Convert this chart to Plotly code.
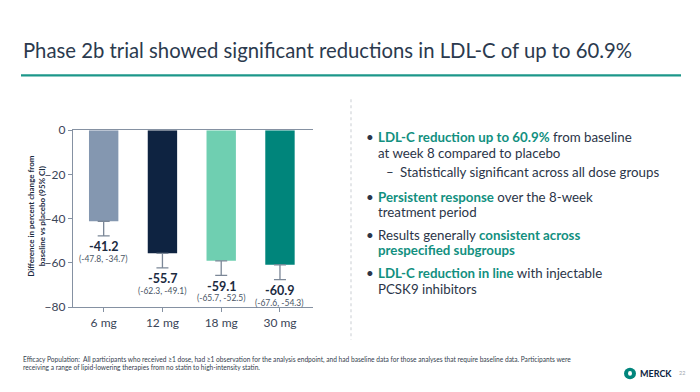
import plotly.graph_objects as go

# ---------------- data ----------------
categories = ["6 mg", "12 mg", "18 mg", "30 mg"]
ldl_diff = [-41.2, -55.7, -59.1, -60.9]
ci_lower = [-47.8, -62.3, -65.7, -67.6]
ci_upper = [-34.7, -49.1, -52.5, -54.3]
bar_colors = ["#8497b0", "#0e2341", "#6fcfb1", "#00857b"]
y_ticks = [0, -20, -40, -60, -80]

title_text = "Phase 2b trial showed significant reductions in LDL-C of up to 60.9%"
y_title = "Difference in percent change from<br>baseline vs placebo (95% CI)"
footnote_lines = [
    "Efficacy Population:  All participants who received ≥1 dose, had ≥1 observation for the analysis endpoint, and had baseline data for those analyses that require baseline data. Participants were",
    "receiving a range of lipid-lowering therapies from no statin to high-intensity statin.",
]

W, H = 700, 392
TEAL = "#12907f"
DARK = "#2b3548"
AX = "#8591a2"


def px(x):
    return x / W


def py(y):
    return 1 - y / H


fig = go.Figure()
fig.add_trace(go.Bar(
    x=categories, y=ldl_diff,
    marker=dict(color=bar_colors, line=dict(width=0)),
    error_y=dict(type="data", symmetric=False,
                 array=[0] * len(ldl_diff),
                 arrayminus=[round(v - l, 2) for v, l in zip(ldl_diff, ci_lower)],
                 color="#7b8797", thickness=1.3, width=6),
    hoverinfo="skip",
))

annotations = []
for c, v, lo, hi in zip(categories, ldl_diff, ci_lower, ci_upper):
    annotations.append(dict(x=c, y=lo, xref="x", yref="y", showarrow=False,
                            text=f"<b>{v}</b>", xanchor="center", yanchor="middle", yshift=-11,
                            font=dict(family="Lato", size=12.5, color="#1b2a3f")))
    annotations.append(dict(x=c, y=lo, xref="x", yref="y", showarrow=False,
                            text=f"({lo}, {hi})", xanchor="center", yanchor="middle", yshift=-23,
                            font=dict(family="Lato", size=8.5, color="#4a5566")))

# y-axis title
annotations.append(dict(x=px(36), y=py(216), xref="paper", yref="paper", showarrow=False,
                        xanchor="center", yanchor="middle",
                        text=f"<b>{y_title}</b>", textangle=-90,
                        font=dict(family="Lato", size=8, color="#1b2a3f")))

# title
annotations.append(dict(x=px(21), y=py(44), xref="paper", yref="paper", showarrow=False,
                        xanchor="left", yanchor="middle", text=title_text,
                        font=dict(family="Lato", size=20.3, color="#2b3a4e")))

# bullets
def hl(s):
    return f"<span style='color:{TEAL}'><b>{s}</b></span>"

bullet_lines = [
    (134, True, 376, hl("LDL-C reduction up to 60.9%") + " from baseline"),
    (151, False, 376, "at week 8 compared to placebo"),
    (171, False, 398, "Statistically significant across all dose groups"),
    (196, True, 376, hl("Persistent response") + " over the 8-week"),
    (212, False, 376, "treatment period"),
    (236, True, 376, "Results generally " + hl("consistent across")),
    (252, False, 376, hl("prespecified subgroups")),
    (276, True, 376, hl("LDL-C reduction in line") + " with injectable"),
    (292, False, 376, "PCSK9 inhibitors"),
]
for yy, bullet, xx, txt in bullet_lines:
    if bullet:
        annotations.append(dict(x=px(364), y=py(yy), xref="paper", yref="paper", showarrow=False,
                                xanchor="left", yanchor="middle", text="•",
                                font=dict(family="Lato", size=13.3, color=DARK)))
    annotations.append(dict(x=px(xx), y=py(yy), xref="paper", yref="paper", showarrow=False,
                            xanchor="left", yanchor="middle", text=txt,
                            font=dict(family="Lato", size=13.3, color=DARK)))
annotations.append(dict(x=px(384), y=py(171), xref="paper", yref="paper", showarrow=False,
                        xanchor="left", yanchor="middle", text="–",
                        font=dict(family="Lato", size=13.3, color=DARK)))

# footnote
for i, line in enumerate(footnote_lines):
    annotations.append(dict(x=px(21), y=py(365 + 8 * i), xref="paper", yref="paper", showarrow=False,
                            xanchor="left", yanchor="middle", text=line,
                            font=dict(family="Lato", size=6.6, color="#333d4d")))

# logo text + page
annotations.append(dict(x=px(638), y=py(380), xref="paper", yref="paper", showarrow=False,
                        xanchor="left", yanchor="middle", text="<b>MERCK</b>",
                        font=dict(family="Lato", size=9, color="#0c2340")))
annotations.append(dict(x=px(677), y=py(380), xref="paper", yref="paper", showarrow=False,
                        xanchor="left", yanchor="middle", text="22",
                        font=dict(family="Lato", size=5.5, color="#a0a6ae")))

shapes = [
    # teal rule under title
    dict(type="line", xref="paper", yref="paper", x0=px(21), x1=px(681), y0=py(70), y1=py(70),
         line=dict(color="#1c978a", width=2.3)),
    # dotted divider
    dict(type="line", xref="paper", yref="paper", x0=px(351), x1=px(351), y0=py(95), y1=py(345),
         line=dict(color="#d3d6da", width=1.2, dash="dot")),
    # logo
    dict(type="circle", xref="paper", yref="paper", x0=px(624), x1=px(636), y0=py(374), y1=py(386),
         fillcolor="#00857c", line=dict(width=0)),
    dict(type="circle", xref="paper", yref="paper", x0=px(628), x1=px(632), y0=py(377.5), y1=py(382.5),
         fillcolor="white", line=dict(width=0)),
]

fig.update_layout(
    width=W, height=H, autosize=False,
    margin=dict(l=0, r=0, t=0, b=0),
    paper_bgcolor="white", plot_bgcolor="white",
    showlegend=False, bargap=0.5,
    font=dict(family="Lato", color="#3a4557"),
    annotations=annotations, shapes=shapes,
    xaxis=dict(domain=[px(73), px(313)], range=[-0.522, 3.562], showline=True, mirror=True,
               linecolor=AX, linewidth=1.3, ticks="outside", ticklen=4, tickcolor=AX,
               tickwidth=1.2, showgrid=False, zeroline=False,
               tickfont=dict(family="Lato", size=12, color="#3a4557")),
    yaxis=dict(domain=[py(311), py(127)], range=[-80, 0], tickvals=y_ticks,
               showline=True, linecolor=AX, linewidth=1.3, ticks="outside", ticklen=4,
               tickcolor=AX, tickwidth=1.2, showgrid=False, zeroline=False,
               tickfont=dict(family="Lato", size=12, color="#3a4557")),
)

fig.write_html("out.html", config={"displayModeBar": False},
               post_script="document.body.style.margin='0';document.body.style.overflow='hidden';")
